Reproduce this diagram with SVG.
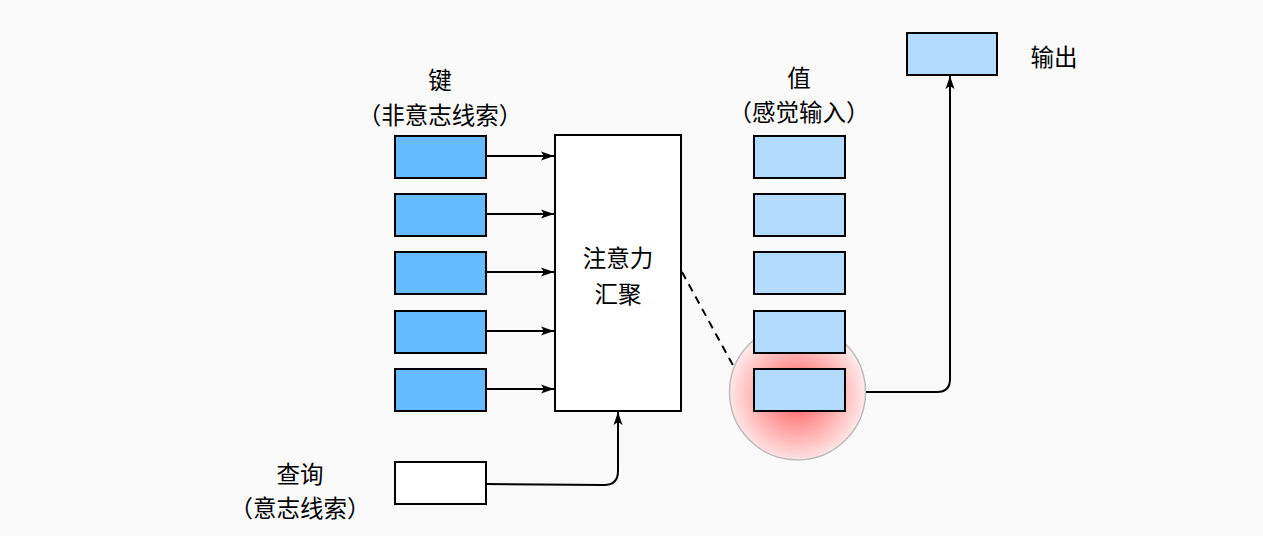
<svg xmlns="http://www.w3.org/2000/svg" width="1263" height="536" viewBox="0 0 1263 536">
<defs>
<style>
.key{fill:#66bbff;stroke:#000;stroke-width:2}
.val{fill:#b3daff;stroke:#000;stroke-width:2}
.box{fill:#fff;stroke:#000;stroke-width:2}
.lbl{font-family:"Noto Sans CJK SC","Noto Sans",sans-serif;font-size:23.5px;fill:#000;text-anchor:middle}
.con{fill:none;stroke:#000;stroke-width:2}
</style>
<marker id="ah" viewBox="0 0 13 10" refX="13" refY="5" markerWidth="13" markerHeight="10" markerUnits="userSpaceOnUse" orient="auto">
<path d="M0,0.5 L13,5 L0,9.5 L3,5 Z" fill="#000"/>
</marker>
<radialGradient id="glow" cx="797" cy="395" r="68" gradientUnits="userSpaceOnUse">
<stop offset="0" stop-color="#ff5555"/>
<stop offset="0.45" stop-color="#ff9a9a"/>
<stop offset="1" stop-color="#ffe8e8"/>
</radialGradient>
</defs>
<rect width="1263" height="536" fill="#fafafa"/>
<g id="highlight"><circle cx="797.5" cy="392" r="68" fill="url(#glow)" stroke="#bbbbbb" stroke-width="1.5"/></g>
<g id="keys">
<rect class="key" x="395" y="136" width="91" height="42"/>
<rect class="key" x="395" y="194" width="91" height="42"/>
<rect class="key" x="395" y="252" width="91" height="42"/>
<rect class="key" x="395" y="311" width="91" height="42"/>
<rect class="key" x="395" y="369" width="91" height="42"/>
<text class="lbl" x="440" y="89">键</text>
<text class="lbl" x="440" y="124">（非意志线索）</text>
</g>
<g id="values">
<rect class="val" x="754" y="136" width="91" height="42"/>
<rect class="val" x="754" y="194" width="91" height="42"/>
<rect class="val" x="754" y="252" width="91" height="42"/>
<rect class="val" x="754" y="311" width="91" height="42"/>
<rect class="val" x="754" y="369" width="91" height="42"/>
<text class="lbl" x="799" y="87">值</text>
<text class="lbl" x="799" y="121">（感觉输入）</text>
</g>
<g id="attention">
<rect class="box" x="555" y="135" width="126" height="276"/>
<text class="lbl" x="618" y="267">注意力</text>
<text class="lbl" x="618" y="303">汇聚</text>
</g>
<g id="query">
<rect class="box" x="395" y="462" width="91" height="42"/>
<text class="lbl" x="300" y="483">查询</text>
<text class="lbl" x="300" y="517">（意志线索）</text>
</g>
<g id="output">
<rect class="val" x="907" y="33" width="90" height="42"/>
<text class="lbl" x="1054" y="66">输出</text>
</g>
<g id="connectors">
<line class="con" x1="486" y1="156" x2="554" y2="156" marker-end="url(#ah)"/>
<line class="con" x1="486" y1="214" x2="554" y2="214" marker-end="url(#ah)"/>
<line class="con" x1="486" y1="272" x2="554" y2="272" marker-end="url(#ah)"/>
<line class="con" x1="486" y1="331" x2="554" y2="331" marker-end="url(#ah)"/>
<line class="con" x1="486" y1="389" x2="554" y2="389" marker-end="url(#ah)"/>
<path class="con" d="M486,484 L604,485 Q618,485 618,471 L618,412" marker-end="url(#ah)"/>
<path class="con" d="M866,392 L937,392 Q950,392 950,379 L950,76" marker-end="url(#ah)"/>
<line class="con" x1="682" y1="272" x2="735" y2="369" stroke-dasharray="8,6"/>
</g>
</svg>
